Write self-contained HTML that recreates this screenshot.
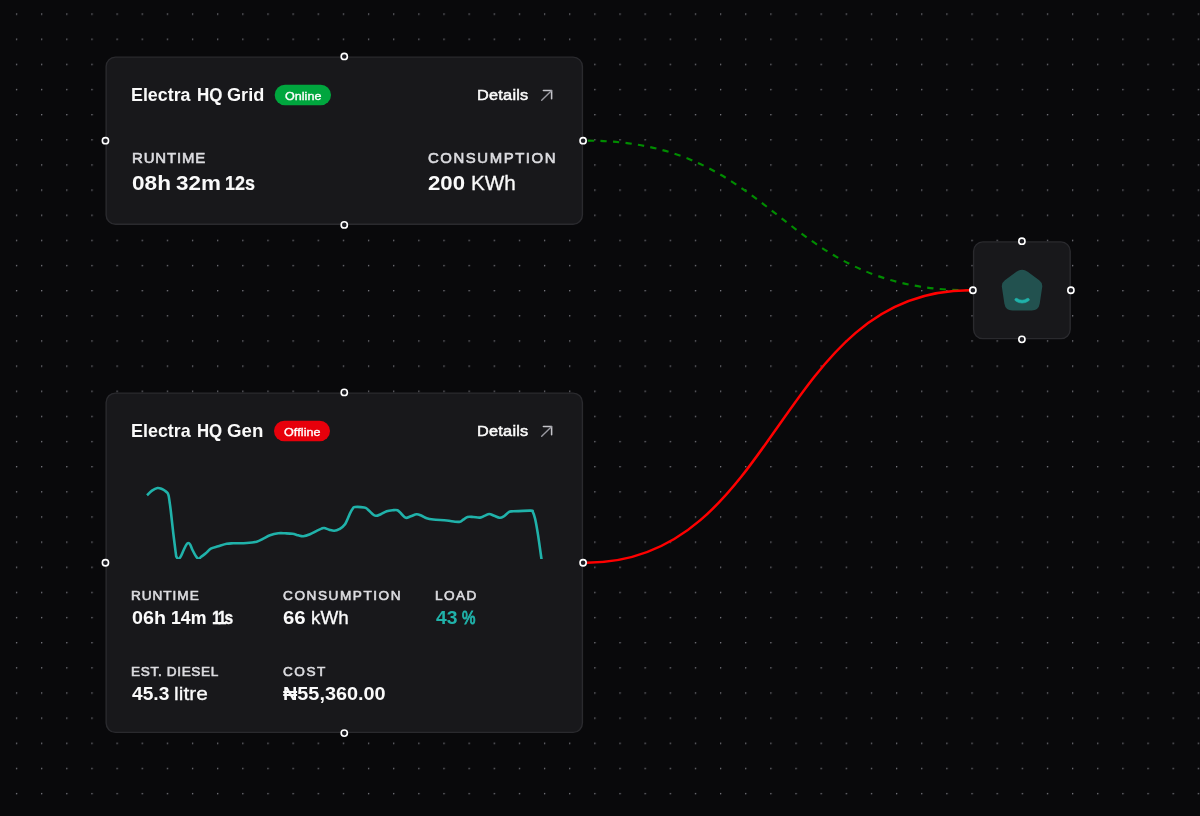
<!DOCTYPE html>
<html lang="en">
<head>
<meta charset="utf-8">
<title>Electra HQ – Power flow</title>
<style>
*{box-sizing:border-box;margin:0;padding:0}
html,body{width:1200px;height:816px;overflow:hidden;background:#09090b}
body{position:relative;font-family:"Liberation Sans",sans-serif;color:#fafafa}
.abs{position:absolute;display:block}
.layer{position:absolute;left:0;top:0;width:1200px;height:816px;overflow:visible}
.card{position:absolute;background:#18181b;border:1.4px solid #2a2a2e;border-radius:10.0px}
.t{position:absolute;display:block;white-space:nowrap;line-height:1;transform-origin:0 50%;font-family:"Liberation Sans",sans-serif}
.txt{will-change:transform}
.badge{position:absolute;border-radius:999px}
.h{position:absolute;display:block;width:7.54px;height:7.54px;border-radius:50%;background:#1a192b;border:1.75px solid #fff}
</style>
</head>
<body>
<!-- dotted canvas background -->
<svg class="layer" width="1200" height="816">
<defs><pattern id="dots" x="16.600" y="14.100" width="25.1450" height="25.1450" patternUnits="userSpaceOnUse" patternTransform="translate(-0.679,-0.679)"><circle cx="0.679" cy="0.679" r="0.679" fill="#91919a"/></pattern></defs>
<rect x="0" y="0" width="1200" height="816" fill="url(#dots)"/>
</svg>

<!-- edges -->
<svg class="layer" width="1200" height="816" fill="none">
<path d="M586.87,140.68 C778.00,140.68 778.00,290.27 969.13,290.27" stroke="#008c00" stroke-width="2.15" stroke-dasharray="6.29 6.29" stroke-dashoffset="-0.9"/>
<path d="M586.87,562.75 C778.00,562.75 778.00,290.27 969.13,290.27" stroke="#ff0000" stroke-width="2.5"/>
</svg>

<!-- nodes -->
<svg class="layer" width="1200" height="816">
<!-- grid node -->
<rect x="106.15" y="57.15" width="476.25" height="167.05" rx="9.30" fill="#18181b" stroke="#2a2a2e" stroke-width="1.4"/>
<rect x="274.70" y="84.70" width="56.30" height="20.60" rx="10.30" fill="#00a63e"/>
<g transform="translate(0.00,0.00)" fill="none" stroke="#c4c4ca" stroke-width="1.55" stroke-linecap="round" stroke-linejoin="round"><path d="M543.4 90.45H551.6V98.7"/><path d="M541.7 100.3L551.4 90.65" stroke="#9a9aa2" stroke-width="1.4"/></g>
<!-- generator node -->
<rect x="106.15" y="393.10" width="476.25" height="339.30" rx="9.30" fill="#18181b" stroke="#2a2a2e" stroke-width="1.4"/>
<rect x="274.00" y="420.70" width="56.00" height="20.60" rx="10.30" fill="#e7000b"/>
<g transform="translate(0.00,336.00)" fill="none" stroke="#c4c4ca" stroke-width="1.55" stroke-linecap="round" stroke-linejoin="round"><path d="M543.4 90.45H551.6V98.7"/><path d="M541.7 100.3L551.4 90.65" stroke="#9a9aa2" stroke-width="1.4"/></g>
<clipPath id="cc"><rect x="140" y="480" width="410" height="78.9"/></clipPath>
<path clip-path="url(#cc)" d="M147.00,495.30 C147.83,494.52 150.25,491.82 152.00,490.60 C153.75,489.38 155.83,488.27 157.50,488.00 C159.17,487.73 160.75,488.53 162.00,489.00 C163.25,489.47 164.07,490.13 165.00,490.80 C165.93,491.47 166.98,492.13 167.60,493.00 C168.22,493.87 168.37,494.50 168.70,496.00 C169.03,497.50 169.25,499.50 169.60,502.00 C169.95,504.50 170.18,505.78 170.80,511.00 C171.42,516.22 172.47,526.25 173.30,533.30 C174.13,540.35 175.27,549.37 175.80,553.30 C176.33,557.23 176.05,556.00 176.50,556.90 C176.95,557.80 177.83,558.70 178.50,558.70 C179.17,558.70 179.63,558.35 180.50,556.90 C181.37,555.45 182.72,552.05 183.70,550.00 C184.68,547.95 185.63,545.77 186.40,544.60 C187.17,543.43 187.67,543.00 188.30,543.00 C188.93,543.00 189.50,543.43 190.20,544.60 C190.90,545.77 191.48,547.97 192.50,550.00 C193.52,552.03 195.27,555.35 196.30,556.80 C197.33,558.25 197.88,558.70 198.70,558.70 C199.52,558.70 200.02,557.70 201.20,556.80 C202.38,555.90 204.20,554.65 205.80,553.30 C207.40,551.95 208.72,549.87 210.80,548.70 C212.88,547.53 215.65,547.12 218.30,546.30 C220.95,545.48 224.20,544.30 226.70,543.80 C229.20,543.30 229.97,543.43 233.30,543.30 C236.63,543.17 242.80,543.27 246.70,543.00 C250.60,542.73 253.93,542.42 256.70,541.70 C259.47,540.98 261.08,539.77 263.30,538.70 C265.52,537.63 267.50,536.20 270.00,535.30 C272.50,534.40 275.80,533.63 278.30,533.30 C280.80,532.97 282.63,533.23 285.00,533.30 C287.37,533.37 290.28,533.37 292.50,533.70 C294.72,534.03 296.50,534.88 298.30,535.30 C300.10,535.72 301.35,536.38 303.30,536.20 C305.25,536.02 307.77,535.10 310.00,534.20 C312.23,533.30 314.78,531.73 316.70,530.80 C318.62,529.87 320.25,529.07 321.50,528.60 C322.75,528.13 322.92,527.82 324.20,528.00 C325.48,528.18 327.53,529.23 329.20,529.70 C330.87,530.17 332.53,530.88 334.20,530.80 C335.87,530.72 337.40,530.30 339.20,529.20 C341.00,528.10 343.20,526.85 345.00,524.20 C346.80,521.55 348.67,515.95 350.00,513.30 C351.33,510.65 352.20,509.35 353.00,508.30 C353.80,507.25 352.93,507.13 354.80,507.00 C356.67,506.87 362.08,507.13 364.20,507.50 C366.32,507.87 366.25,508.23 367.50,509.20 C368.75,510.17 370.32,512.20 371.70,513.30 C373.08,514.40 374.28,515.65 375.80,515.80 C377.32,515.95 378.98,514.95 380.80,514.20 C382.62,513.45 384.75,511.95 386.70,511.30 C388.65,510.65 390.70,510.47 392.50,510.30 C394.30,510.13 395.97,509.65 397.50,510.30 C399.03,510.95 400.32,512.95 401.70,514.20 C403.08,515.45 404.28,517.45 405.80,517.80 C407.32,518.15 408.98,516.90 410.80,516.30 C412.62,515.70 414.88,514.28 416.70,514.20 C418.52,514.12 420.03,515.12 421.70,515.80 C423.37,516.48 424.77,517.68 426.70,518.30 C428.63,518.92 429.97,519.13 433.30,519.50 C436.63,519.87 443.08,520.13 446.70,520.50 C450.32,520.87 452.78,521.50 455.00,521.70 C457.22,521.90 458.62,522.03 460.00,521.70 C461.38,521.37 462.05,520.48 463.30,519.70 C464.55,518.92 465.83,517.45 467.50,517.00 C469.17,516.55 471.22,516.90 473.30,517.00 C475.38,517.10 478.05,517.83 480.00,517.60 C481.95,517.37 483.45,516.20 485.00,515.60 C486.55,515.00 487.77,513.97 489.30,514.00 C490.83,514.03 492.48,515.18 494.20,515.80 C495.92,516.42 498.08,517.55 499.60,517.70 C501.12,517.85 501.70,517.67 503.30,516.70 C504.90,515.73 507.53,512.80 509.20,511.90 C510.87,511.00 509.72,511.52 513.30,511.30 C516.88,511.08 527.43,510.47 530.70,510.60 C533.97,510.73 532.17,510.75 532.90,512.10 C533.63,513.45 534.27,515.03 535.10,518.70 C535.93,522.37 536.81,527.18 537.90,534.10 C538.99,541.02 541.02,555.85 541.65,560.20" fill="none" stroke="#20b2aa" stroke-width="2.6" stroke-linejoin="round" stroke-linecap="butt"/>
<!-- load node -->
<rect x="973.60" y="241.90" width="96.60" height="96.75" rx="9.30" fill="#18181b" stroke="#2a2a2e" stroke-width="1.4"/>
<path fill="#22514f" d="M1016.40,271.73 Q1022.05,267.60 1027.70,271.73 L1039.22,280.14 Q1042.85,282.80 1042.18,287.25 L1039.74,303.48 Q1038.70,310.40 1031.70,310.40 L1012.40,310.40 Q1005.40,310.40 1004.36,303.48 L1001.92,287.25 Q1001.25,282.80 1004.88,280.14Z"/>
<g transform="translate(997.74,265.86) scale(2.03)">
<path fill="#20b2aa" stroke="#20b2aa" stroke-width="0.3" transform="translate(12 17.15) scale(0.95) translate(-12 -16.5)" d="M9.447 15.397a.75.75 0 0 0-.894 1.205A5.766 5.766 0 0 0 12 17.75a5.766 5.766 0 0 0 3.447-1.148a.75.75 0 0 0-.894-1.205A4.267 4.267 0 0 1 12 16.25a4.267 4.267 0 0 1-2.553-.853"/>
</g>
</svg>

<!-- text -->
<div class="layer txt">
<span class="t" style="left:131.31px;top:85.81px;font-size:18.53px;font-weight:700;color:#fafafa;letter-spacing:0.000px;transform:scaleX(0.9641);-webkit-text-stroke:0.01px #fafafa">Electra</span>
<span class="t" style="left:197.19px;top:85.81px;font-size:18.53px;font-weight:700;color:#fafafa;letter-spacing:0.000px;transform:scaleX(0.9124);-webkit-text-stroke:0.14px #fafafa">HQ</span>
<span class="t" style="left:227.40px;top:85.81px;font-size:18.53px;font-weight:700;color:#fafafa;letter-spacing:0.000px;transform:scaleX(0.9796)">Grid</span>
<span class="t" style="left:284.95px;top:91.02px;font-size:11.40px;font-weight:400;color:#ffffff;letter-spacing:0.036px;transform:scaleX(1.1000);-webkit-text-stroke:0.35px #ffffff">Online</span>
<span class="t" style="left:476.94px;top:87.95px;font-size:14.83px;font-weight:400;color:#fafafa;letter-spacing:0.210px;transform:scaleX(1.1000);-webkit-text-stroke:0.5px #fafafa">Details</span>
<span class="t" style="left:131.81px;top:151.16px;font-size:14.10px;font-weight:400;color:#dcdce0;letter-spacing:0.806px;transform:scaleX(1.0600);-webkit-text-stroke:0.6px #dcdce0">RUNTIME</span>
<span class="t" style="left:131.70px;top:173.35px;font-size:20.55px;font-weight:700;color:#fafafa;letter-spacing:0.022px;transform:scaleX(1.1000)">08h</span>
<span class="t" style="left:175.67px;top:173.35px;font-size:20.55px;font-weight:700;color:#fafafa;letter-spacing:0.000px;transform:scaleX(1.0914)">32m</span>
<span class="t" style="left:225.34px;top:173.35px;font-size:20.55px;font-weight:700;color:#fafafa;letter-spacing:0.000px;transform:scaleX(0.8754);-webkit-text-stroke:0.23px #fafafa">12s</span>
<span class="t" style="left:428.28px;top:151.16px;font-size:14.10px;font-weight:400;color:#dcdce0;letter-spacing:1.453px;transform:scaleX(1.0600);-webkit-text-stroke:0.6px #dcdce0">CONSUMPTION</span>
<span class="t" style="left:428.28px;top:173.35px;font-size:20.55px;font-weight:700;color:#fafafa;letter-spacing:0.000px;transform:scaleX(1.0791)">200</span>
<span class="t" style="left:471.45px;top:173.35px;font-size:20.55px;font-weight:400;color:#fafafa;letter-spacing:0.000px;transform:scaleX(1.0059);-webkit-text-stroke:0.3px #fafafa">KWh</span>
<span class="t" style="left:131.31px;top:422.40px;font-size:18.31px;font-weight:700;color:#fafafa;letter-spacing:0.000px;transform:scaleX(0.9790)">Electra</span>
<span class="t" style="left:197.19px;top:422.40px;font-size:18.31px;font-weight:700;color:#fafafa;letter-spacing:0.000px;transform:scaleX(0.9147);-webkit-text-stroke:0.13px #fafafa">HQ</span>
<span class="t" style="left:227.38px;top:422.40px;font-size:18.31px;font-weight:700;color:#fafafa;letter-spacing:-0.000px;transform:scaleX(1.0195)">Gen</span>
<span class="t" style="left:283.95px;top:427.02px;font-size:11.40px;font-weight:400;color:#ffffff;letter-spacing:0.086px;transform:scaleX(1.1000);-webkit-text-stroke:0.35px #ffffff">Offline</span>
<span class="t" style="left:476.94px;top:423.95px;font-size:14.83px;font-weight:400;color:#fafafa;letter-spacing:0.210px;transform:scaleX(1.1000);-webkit-text-stroke:0.5px #fafafa">Details</span>
<span class="t" style="left:131.36px;top:589.87px;font-size:12.85px;font-weight:400;color:#dcdce0;letter-spacing:0.898px;transform:scaleX(1.0600);-webkit-text-stroke:0.6px #dcdce0">RUNTIME</span>
<span class="t" style="left:131.78px;top:607.63px;font-size:19.04px;font-weight:700;color:#fafafa;letter-spacing:-0.000px;transform:scaleX(1.0362)">06h</span>
<span class="t" style="left:170.99px;top:607.63px;font-size:19.04px;font-weight:700;color:#fafafa;letter-spacing:0.000px;transform:scaleX(0.9290);-webkit-text-stroke:0.1px #fafafa">14m</span>
<span class="t" style="left:211.65px;top:607.63px;font-size:19.04px;font-weight:700;color:#fafafa;letter-spacing:-2.372px;transform:scaleX(0.8200);-webkit-text-stroke:0.36px #fafafa">11s</span>
<span class="t" style="left:282.83px;top:589.87px;font-size:12.85px;font-weight:400;color:#dcdce0;letter-spacing:1.457px;transform:scaleX(1.0600);-webkit-text-stroke:0.6px #dcdce0">CONSUMPTION</span>
<span class="t" style="left:283.03px;top:607.63px;font-size:19.04px;font-weight:700;color:#fafafa;letter-spacing:0.000px;transform:scaleX(1.0713)">66</span>
<span class="t" style="left:310.54px;top:607.63px;font-size:19.04px;font-weight:400;color:#fafafa;letter-spacing:0.000px;transform:scaleX(0.9883);-webkit-text-stroke:0.3px #fafafa">kWh</span>
<span class="t" style="left:434.71px;top:589.87px;font-size:12.85px;font-weight:400;color:#dcdce0;letter-spacing:1.362px;transform:scaleX(1.0600);-webkit-text-stroke:0.6px #dcdce0">LOAD</span>
<span class="t" style="left:435.71px;top:607.63px;font-size:19.04px;font-weight:700;color:#20b2aa;letter-spacing:0.000px;transform:scaleX(1.0143)">43</span>
<span class="t" style="left:461.96px;top:607.63px;font-size:19.04px;font-weight:400;color:#20b2aa;letter-spacing:0.000px;transform:scaleX(0.7955);-webkit-text-stroke:0.97px #20b2aa">%</span>
<span class="t" style="left:131.36px;top:666.12px;font-size:12.85px;font-weight:400;color:#dcdce0;letter-spacing:0.604px;transform:scaleX(1.0600);-webkit-text-stroke:0.6px #dcdce0">EST. DIESEL</span>
<span class="t" style="left:131.96px;top:683.88px;font-size:19.04px;font-weight:700;color:#fafafa;letter-spacing:0.000px;transform:scaleX(1.0080)">45.3</span>
<span class="t" style="left:174.03px;top:683.88px;font-size:19.04px;font-weight:400;color:#fafafa;letter-spacing:0.041px;transform:scaleX(1.1000);-webkit-text-stroke:0.3px #fafafa">litre</span>
<span class="t" style="left:282.83px;top:666.12px;font-size:12.85px;font-weight:400;color:#dcdce0;letter-spacing:1.445px;transform:scaleX(1.0600);-webkit-text-stroke:0.6px #dcdce0">COST</span>
<span class="t" style="left:282.85px;top:683.88px;font-size:19.04px;font-weight:700;color:#fafafa;letter-spacing:0.000px;transform:scaleX(1.0428)">₦55,360.00</span>
</div>

<!-- handles -->
<svg class="layer" width="1200" height="816" fill="#1c1c22" stroke="#ffffff" stroke-width="1.6">
<circle cx="344.28" cy="56.45" r="3.1" /><circle cx="344.28" cy="224.90" r="3.1" /><circle cx="105.45" cy="140.68" r="3.1" /><circle cx="583.10" cy="140.68" r="3.1" />
<circle cx="344.28" cy="392.40" r="3.1" /><circle cx="344.28" cy="733.10" r="3.1" /><circle cx="105.45" cy="562.75" r="3.1" /><circle cx="583.10" cy="562.75" r="3.1" />
<circle cx="1021.90" cy="241.20" r="3.1" /><circle cx="1021.90" cy="339.35" r="3.1" /><circle cx="972.90" cy="290.27" r="3.1" /><circle cx="1070.90" cy="290.27" r="3.1" />
</svg>
</body>
</html>
